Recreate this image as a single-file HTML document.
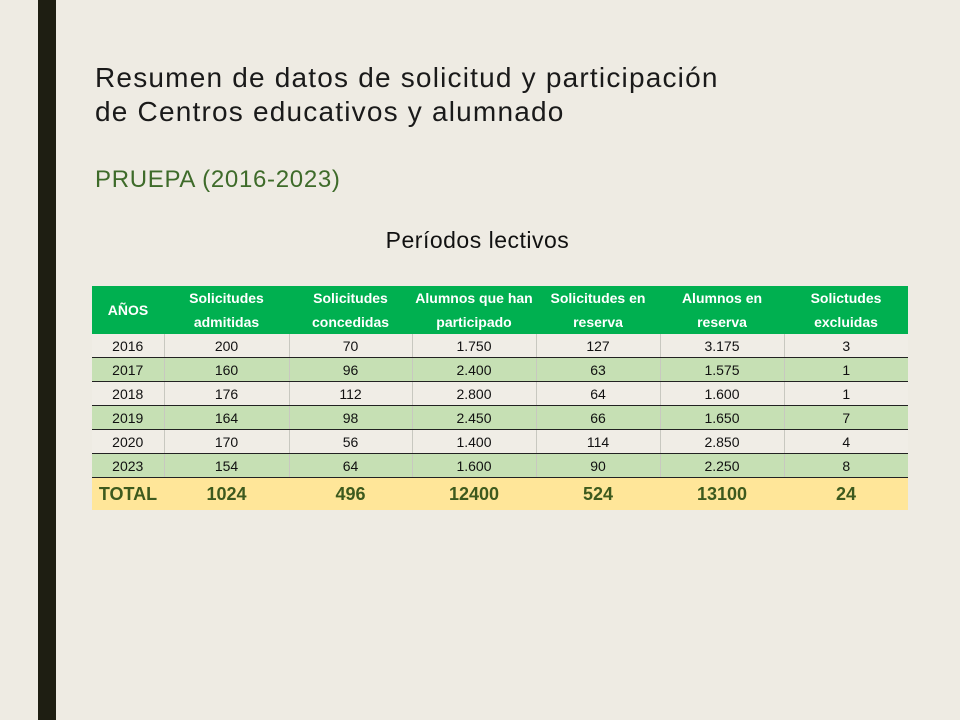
<!DOCTYPE html>
<html><head><meta charset="utf-8"><style>
body{margin:0;width:960px;height:720px;background:#eeebe3;position:relative;overflow:hidden;font-family:"Liberation Sans",sans-serif}
.bar{position:absolute;left:38px;top:0;width:18px;height:720px;background:#1e1e12}
.t{position:absolute;left:95px;color:#1a1a1a;font-size:28px;letter-spacing:1.2px;white-space:nowrap}
table{position:absolute;left:92px;top:286px;border-collapse:collapse;font-family:"Liberation Sans Narrow","Liberation Sans",sans-serif;table-layout:fixed;width:816px}
td{text-align:center;padding:0;font-size:14px;color:#111;border-left:1px solid #c8c8c0;height:23px;border-bottom:1px solid #222}
td:first-child{border-left:none}
tr.h td{background:#00b050;color:#fff;font-weight:bold;font-size:14px;line-height:24px;height:47px;border:none}
tr.g td{background:#f0ede6}
tr.v td{background:#c6e0b4}
tr.tot td{background:#ffe699;color:#3d5a1e;font-weight:bold;font-size:18px;height:32px;border:none}
</style></head><body>
<div class="bar"></div>
<div class="t" style="top:62px">Resumen de datos de solicitud y participación</div>
<div class="t" style="top:96px">de Centros educativos y alumnado</div>
<div class="t" style="top:166px;color:#3e6b2a;font-size:24px;letter-spacing:0.7px">PRUEPA (2016-2023)</div>
<div style="position:absolute;left:0;width:955px;text-align:center;top:227px;font-size:23px;letter-spacing:0.5px;color:#111">Períodos lectivos</div>
<table>
<colgroup><col style="width:72px"><col style="width:125px"><col style="width:123px"><col style="width:124px"><col style="width:124px"><col style="width:124px"><col style="width:124px"></colgroup>
<tr class="h"><td>AÑOS</td><td>Solicitudes<br>admitidas</td><td>Solicitudes<br>concedidas</td><td>Alumnos que han<br>participado</td><td>Solicitudes en<br>reserva</td><td>Alumnos en<br>reserva</td><td>Solictudes<br>excluidas</td></tr>
<tr class="g"><td>2016</td><td>200</td><td>70</td><td>1.750</td><td>127</td><td>3.175</td><td>3</td></tr>
<tr class="v"><td>2017</td><td>160</td><td>96</td><td>2.400</td><td>63</td><td>1.575</td><td>1</td></tr>
<tr class="g"><td>2018</td><td>176</td><td>112</td><td>2.800</td><td>64</td><td>1.600</td><td>1</td></tr>
<tr class="v"><td>2019</td><td>164</td><td>98</td><td>2.450</td><td>66</td><td>1.650</td><td>7</td></tr>
<tr class="g"><td>2020</td><td>170</td><td>56</td><td>1.400</td><td>114</td><td>2.850</td><td>4</td></tr>
<tr class="v"><td>2023</td><td>154</td><td>64</td><td>1.600</td><td>90</td><td>2.250</td><td>8</td></tr>
<tr class="tot"><td>TOTAL</td><td>1024</td><td>496</td><td>12400</td><td>524</td><td>13100</td><td>24</td></tr>
</table>
</body></html>
